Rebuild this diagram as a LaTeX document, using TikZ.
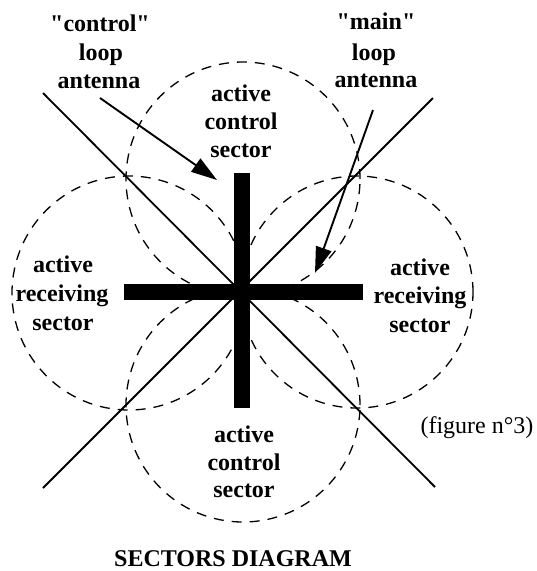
\documentclass[tikz,border=0pt]{standalone}
\usepackage{fontspec}
\setmainfont{Liberation Serif}
\usetikzlibrary{arrows.meta}
\begin{document}
\begin{tikzpicture}[x=1pt,y=-1pt,
  lbl/.style={font=\bfseries\fontsize{24}{28}\selectfont, anchor=base, inner sep=0pt},
  plainlbl/.style={font=\fontsize{24}{28}\selectfont, anchor=base, inner sep=0pt},
  circ/.style={dash pattern=on 10pt off 8pt, line width=1.3pt},
  diag/.style={line width=1.8pt},
  bar/.style={line width=16pt},
  ptr/.style={line width=1.9pt, -{Triangle[length=26pt,width=16pt]}}
]
\useasboundingbox (0,0) rectangle (537,571);

% dashed sector circles
\draw[circ] (243,179) circle[radius=117pt];
\draw[circ] (243,405) circle[radius=117pt];
\draw[circ] (129,293) circle[radius=117pt];
\draw[circ] (357,292) circle[radius=116pt];

% diagonal lines
\coordinate (nw) at (43,93);
\coordinate (se) at (435,487);
\coordinate (ne) at (433,98);
\coordinate (sw) at (43,488);
\draw[diag] (nw) -- (se);
\draw[diag] (ne) -- (sw);

% cross (antennas)
\coordinate (vt) at (242,173);
\coordinate (vb) at (242,408);
\coordinate (hl) at (124,292);
\coordinate (hr) at (363,292);
\draw[bar] (vt) -- (vb);
\draw[bar] (hl) -- (hr);

% antenna labels
\node[lbl] (c1) at (100,31) {\textquotedbl control\textquotedbl};
\node[lbl] (c2) at (101,60) {loop};
\node[lbl] (c3) at (99,88) {antenna};
\node[lbl] (m1) at (376,29) {\textquotedbl main\textquotedbl};
\node[lbl] (m2) at (374,60) {loop};
\node[lbl] (m3) at (376,87) {antenna};

% arrows
\coordinate (ca) at (100,98);
\coordinate (ct) at (217,180);
\coordinate (ma) at (373,110);
\coordinate (mt) at (315,273);
\draw[ptr] (ca) -- (ct);
\draw[ptr] (ma) -- (mt);

% sector labels
\node[lbl] (t1) at (241,101) {active};
\node[lbl] (t2) at (241,129) {control};
\node[lbl] (t3) at (241,157) {sector};

\node[lbl] (l1) at (63,272) {active};
\node[lbl] (l2) at (62,301) {receiving};
\node[lbl] (l3) at (63,330) {sector};

\node[lbl] (r1) at (420,275) {active};
\node[lbl] (r2) at (420,303) {receiving};
\node[lbl] (r3) at (420,332) {sector};

\node[lbl] (b1) at (244,442) {active};
\node[lbl] (b2) at (244,470) {control};
\node[lbl] (b3) at (244,497) {sector};

\node[plainlbl] (fig) at (477,433) {(figure n°3)};
\node[lbl] (title) at (233,566) {SECTORS DIAGRAM};
\end{tikzpicture}
\end{document}
